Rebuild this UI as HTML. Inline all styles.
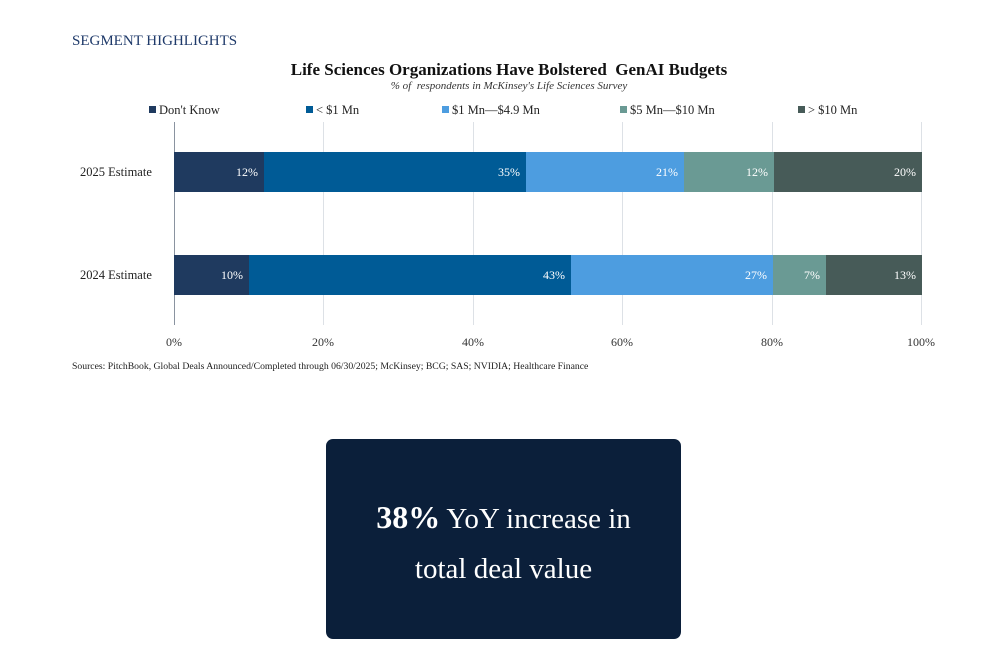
<!DOCTYPE html>
<html><head><meta charset="utf-8"><style>
body{margin:0;width:1000px;height:667px;background:#fff;position:relative;overflow:hidden;font-family:"Liberation Serif",serif}
.a{position:absolute;white-space:nowrap}
.seg{position:absolute;height:40px;color:#fff;font-size:12px;line-height:40px;text-align:right;box-sizing:border-box;padding-right:6px}
.g{position:absolute;top:122px;height:203px;width:1px;background:#dde1e6}
.t{position:absolute;top:335px;font-size:12px;color:#333;width:60px;text-align:center}
.lg{position:absolute;top:103px;font-size:12.5px;color:#222}
.lg i{display:inline-block;width:7px;height:7px;margin-right:3px;vertical-align:1px}
</style></head><body>
<div class="a" style="left:72px;top:33px;font-size:15px;color:#1f3a6a">SEGMENT HIGHLIGHTS</div>
<div class="a" style="left:0;width:1018px;text-align:center;top:60px;font-size:17px;font-weight:bold;color:#111">Life Sciences Organizations Have Bolstered &nbsp;GenAI Budgets</div>
<div class="a" style="left:0;width:1018px;text-align:center;top:80px;font-size:11px;font-style:italic;color:#333">% of &nbsp;respondents in McKinsey's Life Sciences Survey</div>
<div class="lg" style="left:149px"><i style="background:#1f3a5f"></i>Don't Know</div>
<div class="lg" style="left:306px"><i style="background:#005b96"></i>&lt; $1 Mn</div>
<div class="lg" style="left:442px"><i style="background:#4d9de0"></i>$1 Mn—$4.9 Mn</div>
<div class="lg" style="left:620px"><i style="background:#6a9a94"></i>$5 Mn—$10 Mn</div>
<div class="lg" style="left:798px"><i style="background:#475b58"></i>&gt; $10 Mn</div>
<div class="g" style="left:323px"></div><div class="g" style="left:473px"></div><div class="g" style="left:622px"></div><div class="g" style="left:772px"></div><div class="g" style="left:921px"></div>
<div class="g" style="left:174px;background:#8a93a0"></div>
<div class="a" style="left:80px;top:165px;font-size:12.5px;color:#222">2025 Estimate</div>
<div class="a" style="left:80px;top:268px;font-size:12.5px;color:#222">2024 Estimate</div>
<div class="seg" style="top:152px;left:174px;width:90px;background:#1f3a5f">12%</div>
<div class="seg" style="top:152px;left:264px;width:262px;background:#005b96">35%</div>
<div class="seg" style="top:152px;left:526px;width:158px;background:#4d9de0">21%</div>
<div class="seg" style="top:152px;left:684px;width:90px;background:#6a9a94">12%</div>
<div class="seg" style="top:152px;left:774px;width:148px;background:#475b58">20%</div>
<div class="seg" style="top:255px;left:174px;width:75px;background:#1f3a5f">10%</div>
<div class="seg" style="top:255px;left:249px;width:322px;background:#005b96">43%</div>
<div class="seg" style="top:255px;left:571px;width:202px;background:#4d9de0">27%</div>
<div class="seg" style="top:255px;left:773px;width:53px;background:#6a9a94">7%</div>
<div class="seg" style="top:255px;left:826px;width:96px;background:#475b58">13%</div>
<div class="t" style="left:144px">0%</div><div class="t" style="left:293px">20%</div><div class="t" style="left:443px">40%</div><div class="t" style="left:592px">60%</div><div class="t" style="left:742px">80%</div><div class="t" style="left:891px">100%</div>
<div class="a" style="left:72px;top:361px;font-size:9.7px;color:#222">Sources: PitchBook, Global Deals Announced/Completed through 06/30/2025; McKinsey; BCG; SAS; NVIDIA; Healthcare Finance</div>
<div class="a" style="left:326px;top:439px;width:355px;height:200px;background:#0b1f3a;border-radius:7px;color:#fff;text-align:center;white-space:normal">
<div style="margin-top:53px;font-size:29px;line-height:50px"><b style="font-size:32px">38%</b> YoY increase in<br>total deal value</div></div>
</body></html>
